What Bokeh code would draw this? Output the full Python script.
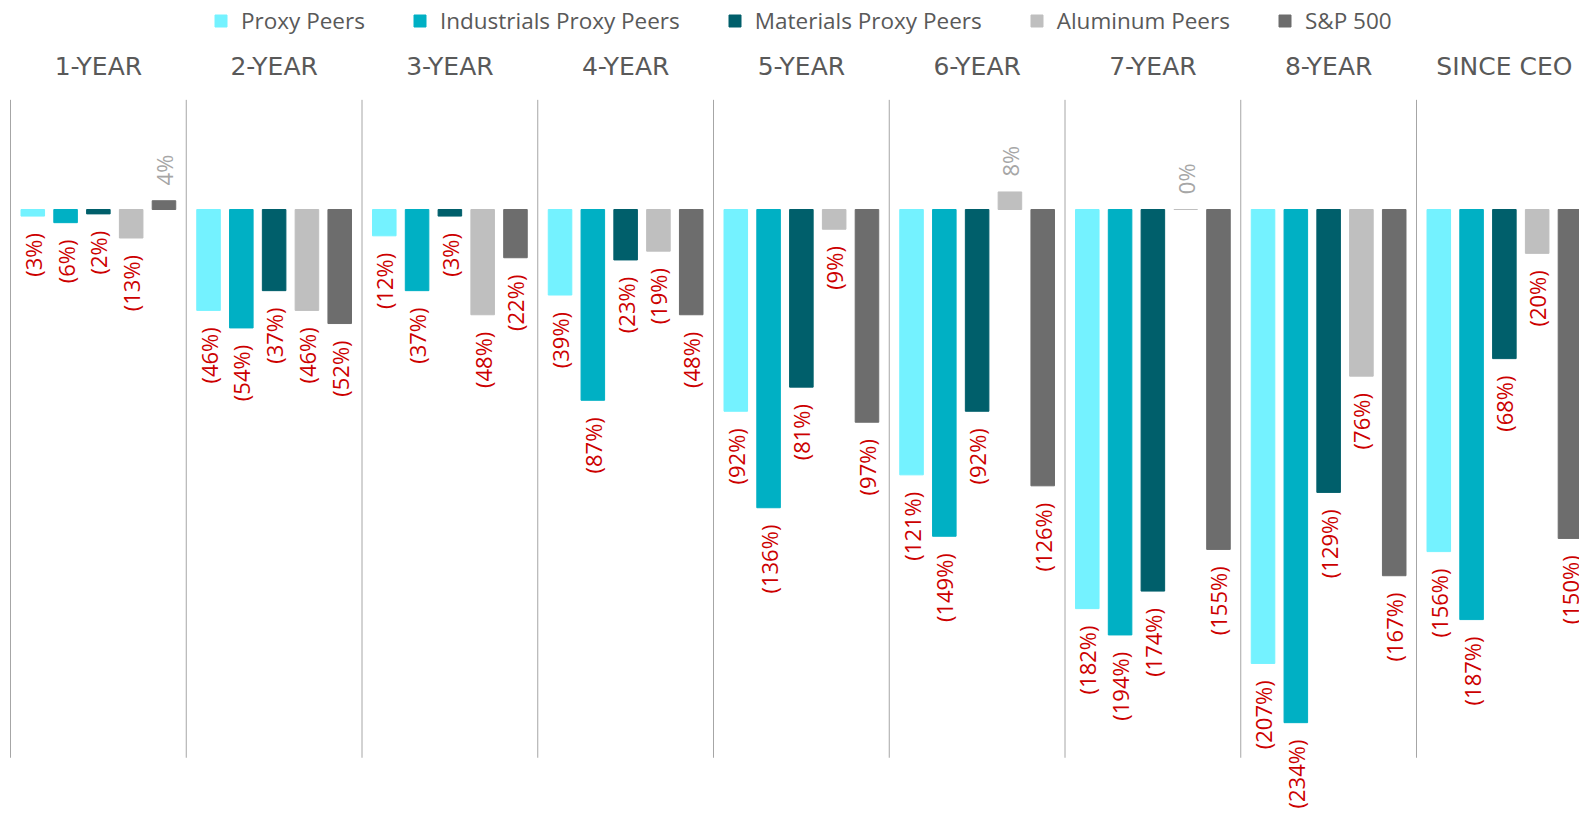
import numpy as np
from bokeh.plotting import figure
from bokeh.models import ColumnDataSource, Legend, LegendItem, Range1d
from bokeh.core.properties import value
from bokeh.embed import file_html
from bokeh.resources import INLINE

# ---- data ----
periods = ["1-YEAR", "2-YEAR", "3-YEAR", "4-YEAR", "5-YEAR", "6-YEAR", "7-YEAR", "8-YEAR", "SINCE CEO"]
series_names = ["Proxy Peers", "Industrials Proxy Peers", "Materials Proxy Peers", "Aluminum Peers", "S&P 500"]
proxy_peers = [-3, -46, -12, -39, -92, -121, -182, -207, -156]
industrials_proxy_peers = [-6, -54, -37, -87, -136, -149, -194, -234, -187]
materials_proxy_peers = [-2, -37, -3, -23, -81, -92, -174, -129, -68]
aluminum_peers = [-13, -46, -48, -19, -9, 8, 0, -76, -20]
sp500 = [4, -52, -22, -48, -97, -126, -155, -167, -150]

series_values = [proxy_peers, industrials_proxy_peers, materials_proxy_peers, aluminum_peers, sp500]
colors = ["#74F2FF", "#00B0C4", "#005F6B", "#BFBFBF", "#6D6D6D"]

# ---- geometry ----
W, H = 1579, 813
px_per_unit = 2.193
zero_from_top = 209.0
y_top = zero_from_top / px_per_unit
y_bottom = -(H - zero_from_top) / px_per_unit
group_px = 175.75
x_start = -0.5 - 10.0 / group_px
x_end = x_start + W / group_px

pitch = 0.1866
bar_w = 0.134
offsets = [(j - 2) * pitch for j in range(5)]
neg_gap = 7.7
pos_gap = 7.0
sep_top = 50
sep_bottom = -250

p = figure(width=W, height=H, x_range=Range1d(x_start, x_end), y_range=Range1d(y_bottom, y_top),
           output_backend="svg", toolbar_location=None, x_axis_location=None, y_axis_location=None,
           min_border=0, min_border_left=0, min_border_right=0, min_border_top=0, min_border_bottom=0,
           outline_line_color=None, background_fill_color="white", border_fill_color="white")
p.grid.visible = False

idx = np.arange(len(periods))

# separators
bounds = np.arange(len(periods) + 1) - 0.5
p.segment(x0=bounds, y0=[sep_bottom] * len(bounds), x1=bounds, y1=[sep_top] * len(bounds),
          line_color="#A6A6A6", line_width=1)

items = []
for j, (name, vals, col) in enumerate(zip(series_names, series_values, colors)):
    vals = np.array(vals, dtype=float)
    xs = idx + offsets[j]
    src = ColumnDataSource(dict(x=xs, top=vals, bottom=np.zeros_like(vals)))
    r = p.vbar(x="x", top="top", bottom="bottom", width=bar_w, source=src,
               fill_color=col, line_color=col, line_width=1)
    items.append(LegendItem(label=name, renderers=[r]))

    neg = vals < 0
    nsrc = ColumnDataSource(dict(x=xs[neg], y=vals[neg] - neg_gap,
                                 t=["(%d%%)" % abs(v) for v in vals[neg]]))
    p.text(x="x", y="y", text="t", source=nsrc, angle=np.pi / 2, text_align="right",
           text_baseline="middle", text_font=value("Open Sans"), text_font_size="22px",
           text_color="#CC0000")
    pos = ~neg
    psrc = ColumnDataSource(dict(x=xs[pos], y=vals[pos] + pos_gap,
                                 t=["%d%%" % v for v in vals[pos]]))
    p.text(x="x", y="y", text="t", source=psrc, angle=np.pi / 2, text_align="left",
           text_baseline="middle", text_font=value("Open Sans"), text_font_size="22px",
           text_color="#A6A6A6")

# period headers
hdr_y = sep_top + (99 - 65.5) / px_per_unit
p.text(x=idx, y=[hdr_y] * len(periods), text=periods, text_align="center", text_baseline="middle",
       text_font=value("DejaVu Sans"), text_font_size="25px", text_color="#595959")

legend = Legend(items=items, orientation="horizontal", location=(213, 777),
                glyph_width=15, glyph_height=15, label_standoff=13, spacing=47,
                padding=0, margin=0, border_line_alpha=0, background_fill_alpha=0,
                label_text_font="Open Sans", label_text_font_size="22.5px",
                label_text_color="#595959")
p.add_layout(legend)

open("out.html", "w").write(file_html(p, INLINE))
